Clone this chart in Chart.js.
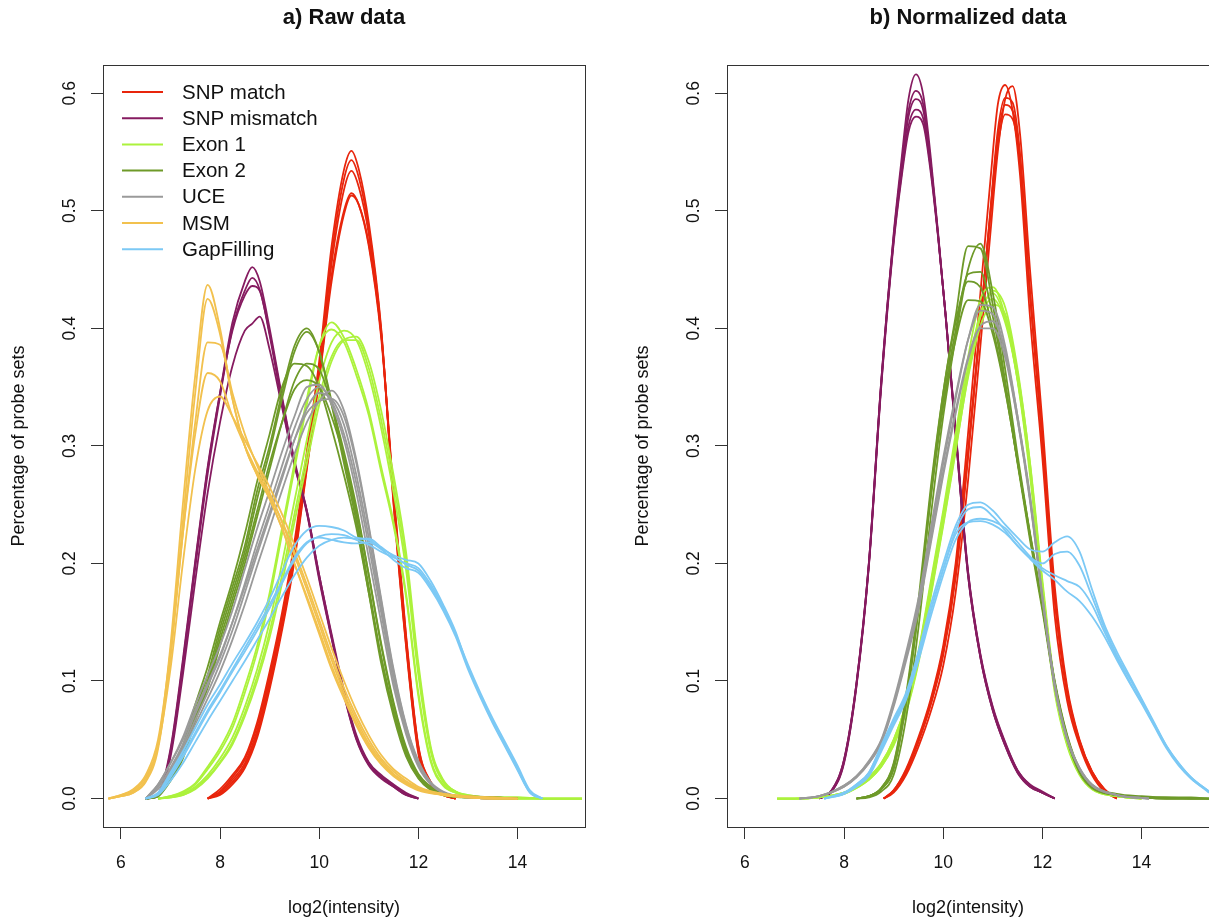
<!DOCTYPE html>
<html>
<head>
<meta charset="utf-8">
<script src="https://cdn.jsdelivr.net/npm/chart.js@4.4.1/dist/chart.umd.min.js"></script>
<style>
  html, body { margin: 0; padding: 0; background: #fff; overflow: hidden; width: 1209px; height: 924px; }
  .panel { position: absolute; top: 0; width: 620px; height: 924px; }
  #rawBox { left: 0; }
  #normBox { left: 624px; }
</style>
</head>
<body>
<div class="panel" id="rawBox"><canvas id="raw" width="620" height="924"></canvas></div>
<div class="panel" id="normBox"><canvas id="norm" width="620" height="924"></canvas></div>
<script>
// groups, in the order they were plotted (legend order)
const groups = ["SNP match", "SNP mismatch", "Exon 1", "Exon 2", "UCE", "MSM", "GapFilling"];
const groupColors = ["#e8250c", "#861b60", "#acf23c", "#6e9a29", "#9a9a9a", "#f2c14e", "#7cc9f5"];

const xTicks = [6, 8, 10, 12, 14];
const yTicks = [0, 0.1, 0.2, 0.3, 0.4, 0.5, 0.6];

// ---------- a) raw data ----------
const rawSnpMatchX = [7.75,8,8.25,8.5,8.75,9,9.25,9.5,9.75,10,10.25,10.5,10.65,10.8,11,11.25,11.5,11.75,12,12.25,12.5,12.75];
const rawSnpMatch = [
  [0,0.008,0.02,0.035,0.065,0.108,0.158,0.218,0.295,0.372,0.47,0.535,0.551,0.535,0.49,0.40,0.25,0.13,0.038,0.012,0.003,0],
  [0,0.006,0.018,0.033,0.062,0.104,0.154,0.213,0.29,0.366,0.462,0.527,0.543,0.528,0.485,0.398,0.252,0.132,0.04,0.012,0.003,0],
  [0,0.005,0.016,0.03,0.058,0.1,0.15,0.21,0.285,0.362,0.455,0.518,0.534,0.52,0.48,0.396,0.255,0.135,0.042,0.013,0.003,0],
  [0,0.004,0.014,0.028,0.055,0.096,0.146,0.205,0.282,0.358,0.445,0.5,0.515,0.505,0.47,0.392,0.258,0.138,0.044,0.014,0.004,0],
  [0,0.003,0.012,0.026,0.052,0.093,0.143,0.202,0.28,0.356,0.44,0.497,0.513,0.505,0.472,0.395,0.26,0.14,0.045,0.014,0.004,0]
];

const rawSnpMismatchX = [6.5,6.75,7,7.25,7.5,7.75,8,8.25,8.5,8.65,8.8,9,9.25,9.5,9.75,10,10.25,10.5,10.75,11,11.25,11.5,11.75,12];
const rawSnpMismatch = [
  [0,0.003,0.04,0.115,0.2,0.28,0.345,0.405,0.44,0.452,0.44,0.40,0.342,0.288,0.245,0.19,0.138,0.09,0.052,0.03,0.019,0.011,0.004,0],
  [0,0.003,0.038,0.112,0.196,0.276,0.342,0.40,0.432,0.443,0.433,0.396,0.34,0.286,0.244,0.188,0.137,0.089,0.051,0.029,0.018,0.01,0.003,0],
  [0,0.004,0.042,0.118,0.202,0.282,0.345,0.398,0.428,0.436,0.432,0.394,0.336,0.284,0.243,0.186,0.136,0.088,0.05,0.028,0.017,0.01,0.003,0],
  [0,0.002,0.035,0.105,0.185,0.26,0.32,0.368,0.398,0.404,0.41,0.382,0.333,0.284,0.245,0.19,0.14,0.092,0.054,0.031,0.02,0.012,0.005,0]
];

const rawExon1X = [6.75,7,7.25,7.5,7.75,8,8.25,8.5,8.75,9,9.25,9.5,9.75,10,10.25,10.5,10.75,11,11.25,11.5,11.75,12,12.25,12.5,12.75,13,13.5,14,14.5,15,15.3];
const rawExon1 = [
  [0,0.002,0.005,0.012,0.025,0.04,0.06,0.09,0.125,0.17,0.225,0.28,0.335,0.385,0.405,0.392,0.365,0.33,0.282,0.235,0.175,0.09,0.033,0.012,0.005,0.002,0.001,0,0,0,0],
  [0,0.002,0.006,0.013,0.027,0.043,0.064,0.095,0.13,0.175,0.23,0.285,0.34,0.385,0.399,0.388,0.36,0.326,0.278,0.232,0.172,0.087,0.031,0.011,0.005,0.002,0.001,0,0,0,0],
  [0,0.001,0.004,0.01,0.02,0.034,0.052,0.078,0.11,0.15,0.2,0.253,0.305,0.355,0.388,0.398,0.39,0.36,0.315,0.26,0.195,0.105,0.04,0.014,0.006,0.002,0.001,0,0,0,0],
  [0,0.001,0.003,0.008,0.017,0.03,0.046,0.07,0.1,0.137,0.183,0.235,0.285,0.335,0.372,0.39,0.393,0.372,0.33,0.275,0.21,0.115,0.044,0.016,0.006,0.003,0.001,0.001,0,0,0],
  [0,0.001,0.003,0.009,0.018,0.031,0.048,0.073,0.104,0.142,0.19,0.242,0.293,0.342,0.376,0.39,0.39,0.366,0.322,0.268,0.203,0.11,0.042,0.015,0.006,0.003,0.001,0.001,0,0,0]
];

const rawExon2X = [6.5,6.75,7,7.25,7.5,7.75,8,8.25,8.5,8.75,9,9.25,9.5,9.75,10,10.25,10.5,10.75,11,11.25,11.5,11.75,12,12.25,12.5,13,13.5,14];
const rawExon2 = [
  [0,0.003,0.02,0.04,0.075,0.105,0.145,0.18,0.215,0.262,0.30,0.345,0.385,0.40,0.38,0.335,0.285,0.235,0.175,0.115,0.07,0.036,0.017,0.007,0.003,0.001,0,0],
  [0,0.002,0.018,0.038,0.072,0.1,0.14,0.175,0.21,0.255,0.295,0.34,0.38,0.397,0.38,0.338,0.29,0.24,0.18,0.12,0.074,0.038,0.018,0.008,0.003,0.001,0,0],
  [0,0.002,0.015,0.034,0.066,0.094,0.13,0.165,0.2,0.24,0.28,0.32,0.355,0.37,0.365,0.335,0.295,0.248,0.19,0.13,0.08,0.042,0.02,0.009,0.004,0.001,0.001,0],
  [0,0.003,0.022,0.045,0.08,0.112,0.15,0.185,0.225,0.27,0.31,0.35,0.37,0.368,0.35,0.315,0.275,0.23,0.175,0.12,0.075,0.04,0.019,0.008,0.003,0.001,0.001,0],
  [0,0.002,0.017,0.036,0.068,0.097,0.135,0.17,0.205,0.245,0.285,0.32,0.348,0.356,0.35,0.325,0.29,0.245,0.19,0.132,0.082,0.044,0.021,0.01,0.004,0.002,0.001,0]
];

const rawUceX = [6.5,6.75,7,7.25,7.5,7.75,8,8.25,8.5,8.75,9,9.25,9.5,9.75,10,10.25,10.5,10.75,11,11.25,11.5,11.75,12,12.25,12.5,13,13.5];
const rawUce = [
  [0,0.012,0.03,0.052,0.08,0.105,0.13,0.16,0.195,0.23,0.262,0.295,0.325,0.35,0.352,0.335,0.305,0.26,0.205,0.15,0.095,0.055,0.027,0.012,0.005,0.001,0],
  [0,0.01,0.026,0.046,0.072,0.096,0.12,0.15,0.183,0.218,0.25,0.283,0.315,0.34,0.35,0.338,0.31,0.268,0.215,0.158,0.1,0.058,0.029,0.013,0.005,0.001,0],
  [0,0.008,0.022,0.04,0.063,0.085,0.108,0.135,0.165,0.198,0.23,0.262,0.293,0.32,0.338,0.347,0.33,0.288,0.232,0.17,0.11,0.063,0.032,0.014,0.006,0.001,0],
  [0,0.01,0.024,0.043,0.067,0.09,0.115,0.143,0.175,0.208,0.24,0.272,0.305,0.332,0.345,0.34,0.318,0.275,0.222,0.163,0.105,0.06,0.03,0.013,0.005,0.001,0],
  [0,0.012,0.03,0.05,0.075,0.098,0.122,0.15,0.18,0.212,0.243,0.275,0.305,0.328,0.338,0.34,0.325,0.285,0.23,0.168,0.108,0.062,0.031,0.013,0.005,0.001,0]
];

const rawMsmX = [5.75,6,6.25,6.5,6.75,7,7.25,7.5,7.75,8,8.25,8.5,8.75,9,9.25,9.5,9.75,10,10.25,10.5,10.75,11,11.25,11.5,11.75,12,12.5,13,13.5,14];
const rawMsm = [
  [0,0.002,0.005,0.015,0.045,0.13,0.25,0.36,0.437,0.40,0.34,0.30,0.275,0.255,0.23,0.20,0.17,0.14,0.11,0.085,0.062,0.043,0.029,0.019,0.012,0.007,0.003,0.001,0,0],
  [0,0.002,0.005,0.014,0.042,0.12,0.235,0.345,0.425,0.395,0.34,0.30,0.275,0.255,0.23,0.20,0.172,0.143,0.113,0.087,0.064,0.045,0.03,0.02,0.013,0.008,0.003,0.001,0,0],
  [0,0.002,0.006,0.016,0.045,0.12,0.225,0.32,0.388,0.386,0.345,0.31,0.283,0.26,0.235,0.207,0.178,0.148,0.118,0.09,0.067,0.047,0.032,0.021,0.014,0.008,0.003,0.001,0,0],
  [0,0.003,0.008,0.02,0.05,0.125,0.225,0.31,0.362,0.355,0.325,0.30,0.278,0.258,0.236,0.21,0.182,0.152,0.122,0.094,0.07,0.05,0.034,0.023,0.015,0.009,0.004,0.002,0.001,0],
  [0,0.003,0.007,0.018,0.045,0.11,0.2,0.28,0.33,0.342,0.325,0.305,0.285,0.265,0.242,0.216,0.188,0.158,0.128,0.1,0.075,0.054,0.037,0.025,0.017,0.01,0.004,0.002,0.001,0]
];

const rawGapX = [6.5,6.75,7,7.25,7.5,7.75,8,8.25,8.5,8.75,9,9.25,9.5,9.75,10,10.25,10.5,10.75,11,11.25,11.5,11.75,12,12.25,12.5,12.75,13,13.25,13.5,13.75,14,14.25,14.5];
const rawGap = [
  [0,0.005,0.022,0.04,0.06,0.08,0.097,0.115,0.132,0.15,0.17,0.193,0.215,0.228,0.232,0.231,0.228,0.222,0.22,0.213,0.207,0.203,0.2,0.185,0.165,0.142,0.112,0.088,0.065,0.045,0.025,0.005,0],
  [0,0.004,0.018,0.035,0.054,0.073,0.09,0.108,0.125,0.143,0.162,0.183,0.203,0.217,0.223,0.225,0.224,0.22,0.216,0.21,0.205,0.2,0.196,0.182,0.163,0.14,0.112,0.088,0.066,0.046,0.026,0.006,0],
  [0,0.003,0.015,0.03,0.048,0.066,0.083,0.1,0.117,0.135,0.153,0.172,0.19,0.205,0.215,0.22,0.222,0.221,0.221,0.214,0.206,0.199,0.194,0.18,0.162,0.14,0.114,0.09,0.068,0.048,0.028,0.007,0],
  [0,0.004,0.02,0.037,0.056,0.075,0.092,0.11,0.128,0.146,0.165,0.185,0.205,0.218,0.222,0.22,0.218,0.217,0.218,0.212,0.203,0.196,0.192,0.178,0.16,0.138,0.11,0.086,0.064,0.044,0.024,0.005,0]
];

// ---------- b) normalized data (no MSM) ----------
const normSnpMatchX = [8.8,9,9.25,9.5,9.75,10,10.25,10.5,10.75,10.95,11.1,11.25,11.4,11.55,11.75,12,12.25,12.5,12.75,13,13.25,13.5];
const normSnpMatch = [
  [0,0.007,0.025,0.052,0.085,0.13,0.2,0.31,0.43,0.525,0.59,0.607,0.585,0.53,0.41,0.29,0.155,0.083,0.045,0.02,0.006,0],
  [0,0.005,0.02,0.044,0.074,0.113,0.175,0.27,0.385,0.48,0.55,0.595,0.606,0.565,0.45,0.32,0.18,0.095,0.05,0.023,0.008,0],
  [0,0.006,0.022,0.048,0.08,0.122,0.188,0.29,0.405,0.5,0.568,0.596,0.592,0.548,0.43,0.305,0.168,0.09,0.048,0.022,0.007,0],
  [0,0.006,0.023,0.049,0.081,0.124,0.19,0.292,0.405,0.498,0.562,0.59,0.585,0.545,0.43,0.305,0.17,0.09,0.048,0.022,0.007,0],
  [0,0.007,0.024,0.05,0.083,0.127,0.194,0.295,0.405,0.495,0.555,0.582,0.578,0.54,0.43,0.307,0.172,0.092,0.049,0.023,0.008,0]
];

const normSnpMismatchX = [7.5,7.75,8,8.25,8.5,8.75,9,9.15,9.3,9.45,9.6,9.75,9.9,10.05,10.25,10.5,10.75,11,11.25,11.5,11.75,12,12.25];
const normSnpMismatch = [
  [0,0.007,0.033,0.098,0.2,0.355,0.48,0.54,0.595,0.616,0.598,0.545,0.48,0.41,0.31,0.19,0.12,0.075,0.045,0.022,0.01,0.005,0],
  [0,0.007,0.033,0.098,0.2,0.355,0.478,0.535,0.585,0.602,0.59,0.54,0.478,0.41,0.31,0.19,0.12,0.075,0.045,0.022,0.01,0.005,0],
  [0,0.006,0.032,0.097,0.199,0.353,0.476,0.532,0.58,0.595,0.585,0.538,0.478,0.41,0.312,0.192,0.121,0.076,0.046,0.023,0.011,0.005,0],
  [0,0.006,0.031,0.096,0.198,0.352,0.474,0.528,0.572,0.586,0.578,0.535,0.477,0.411,0.313,0.193,0.122,0.077,0.047,0.024,0.011,0.005,0],
  [0,0.006,0.03,0.095,0.197,0.35,0.472,0.525,0.567,0.58,0.573,0.532,0.476,0.411,0.314,0.194,0.123,0.078,0.048,0.024,0.012,0.006,0]
];

const normExon1X = [6.65,7,7.5,8,8.25,8.5,8.75,9,9.25,9.5,9.75,10,10.25,10.5,10.75,11,11.25,11.5,11.75,12,12.25,12.5,12.75,13,13.5,14];
const normExon1 = [
  [0,0,0.001,0.005,0.01,0.018,0.03,0.05,0.08,0.125,0.185,0.245,0.31,0.375,0.425,0.435,0.41,0.355,0.275,0.175,0.09,0.045,0.02,0.008,0.002,0],
  [0,0,0.001,0.004,0.009,0.016,0.027,0.045,0.073,0.115,0.172,0.232,0.295,0.36,0.41,0.432,0.418,0.365,0.285,0.182,0.094,0.047,0.021,0.009,0.002,0],
  [0,0,0.001,0.005,0.01,0.017,0.029,0.048,0.077,0.12,0.178,0.238,0.302,0.365,0.413,0.43,0.408,0.357,0.28,0.18,0.093,0.046,0.021,0.008,0.002,0],
  [0,0,0.001,0.005,0.01,0.018,0.03,0.05,0.08,0.124,0.182,0.242,0.305,0.366,0.41,0.425,0.405,0.356,0.28,0.182,0.094,0.047,0.021,0.009,0.002,0],
  [0,0,0.001,0.004,0.009,0.016,0.027,0.046,0.074,0.117,0.174,0.234,0.297,0.358,0.402,0.42,0.412,0.362,0.286,0.186,0.097,0.049,0.022,0.009,0.002,0]
];

const normExon2X = [8.25,8.5,8.75,9,9.25,9.5,9.75,10,10.25,10.5,10.75,11,11.25,11.5,11.75,12,12.25,12.5,12.75,13,13.5,14,14.5,15,15.36];
const normExon2 = [
  [0,0.002,0.008,0.025,0.08,0.16,0.26,0.345,0.41,0.47,0.468,0.42,0.355,0.285,0.22,0.16,0.095,0.05,0.022,0.009,0.003,0.001,0,0,0],
  [0,0.001,0.006,0.02,0.068,0.145,0.24,0.325,0.392,0.45,0.472,0.43,0.365,0.292,0.225,0.163,0.097,0.051,0.023,0.01,0.003,0.001,0,0,0],
  [0,0.002,0.008,0.026,0.082,0.162,0.258,0.338,0.398,0.446,0.448,0.41,0.352,0.287,0.223,0.163,0.098,0.052,0.023,0.01,0.003,0.001,0,0,0],
  [0,0.002,0.009,0.03,0.088,0.168,0.265,0.345,0.405,0.44,0.435,0.4,0.348,0.286,0.224,0.164,0.099,0.053,0.024,0.01,0.003,0.001,0.001,0,0],
  [0,0.002,0.009,0.029,0.085,0.163,0.256,0.333,0.39,0.424,0.423,0.395,0.347,0.287,0.226,0.166,0.1,0.054,0.025,0.011,0.004,0.002,0.001,0.001,0]
];

const normUceX = [7.1,7.5,8,8.25,8.5,8.75,9,9.25,9.5,9.75,10,10.25,10.5,10.75,11,11.25,11.5,11.75,12,12.25,12.5,12.75,13,13.5,14.15];
const normUce = [
  [0,0.002,0.01,0.018,0.03,0.048,0.08,0.12,0.165,0.225,0.285,0.34,0.39,0.42,0.418,0.385,0.325,0.255,0.17,0.095,0.05,0.025,0.011,0.003,0],
  [0,0.002,0.011,0.019,0.032,0.05,0.083,0.124,0.17,0.23,0.29,0.343,0.39,0.415,0.412,0.38,0.322,0.253,0.17,0.095,0.05,0.025,0.011,0.003,0],
  [0,0.002,0.01,0.018,0.03,0.047,0.078,0.117,0.16,0.217,0.275,0.327,0.373,0.402,0.406,0.38,0.325,0.258,0.173,0.097,0.051,0.026,0.012,0.003,0],
  [0,0.002,0.011,0.019,0.031,0.049,0.08,0.12,0.163,0.22,0.278,0.33,0.375,0.4,0.4,0.375,0.322,0.256,0.172,0.097,0.051,0.026,0.012,0.003,0]
];

const normGapX = [7.6,8,8.25,8.5,8.75,9,9.25,9.5,9.75,10,10.25,10.5,10.75,11,11.25,11.5,11.75,12,12.25,12.5,12.75,13,13.25,13.5,13.75,14,14.25,14.5,14.75,15,15.36];
const normGap = [
  [0,0.005,0.012,0.022,0.045,0.068,0.09,0.125,0.165,0.2,0.232,0.25,0.252,0.245,0.233,0.222,0.212,0.21,0.218,0.223,0.21,0.178,0.148,0.125,0.105,0.085,0.065,0.045,0.03,0.018,0.006],
  [0,0.004,0.011,0.02,0.042,0.064,0.086,0.12,0.16,0.195,0.228,0.246,0.248,0.24,0.228,0.215,0.205,0.2,0.208,0.21,0.198,0.172,0.145,0.122,0.103,0.084,0.064,0.045,0.03,0.018,0.006],
  [0,0.004,0.01,0.019,0.04,0.062,0.084,0.117,0.155,0.19,0.22,0.235,0.238,0.236,0.23,0.218,0.206,0.196,0.19,0.185,0.18,0.165,0.142,0.12,0.1,0.082,0.063,0.044,0.029,0.017,0.006],
  [0,0.005,0.012,0.022,0.044,0.066,0.088,0.122,0.16,0.195,0.225,0.235,0.236,0.233,0.226,0.215,0.204,0.194,0.186,0.176,0.168,0.155,0.138,0.118,0.099,0.081,0.062,0.043,0.028,0.017,0.005]
];

const FONT = "'Liberation Sans', Arial, Helvetica, sans-serif";
const INK = "#111";

// one line per replicate; order makes later groups draw on top, like the original
function makeDatasets(panel) {
  const out = [];
  panel.forEach(([gi, xs, reps]) => {
    reps.forEach(ys => {
      out.push({
        label: groups[gi],
        data: xs.map((x, i) => ({ x: x, y: ys[i] })),
        borderColor: groupColors[gi],
        borderWidth: 1.8,
        pointRadius: 0,
        fill: false,
        cubicInterpolationMode: "monotone",
        order: groups.length - gi
      });
    });
  });
  return out;
}

const framePlugin = {
  id: "frame",
  afterDatasetsDraw(chart) {
    const a = chart.chartArea;
    const ctx = chart.ctx;
    ctx.save();
    ctx.strokeStyle = "#333";
    ctx.lineWidth = 1;
    ctx.strokeRect(Math.round(a.left) + 0.5, Math.round(a.top) + 0.5,
      Math.round(a.right - a.left), Math.round(a.bottom - a.top));
    ctx.restore();
  }
};

const legendPlugin = {
  id: "groupLegend",
  afterDatasetsDraw(chart) {
    const a = chart.chartArea;
    const ctx = chart.ctx;
    ctx.save();
    ctx.font = "20.5px " + FONT;
    ctx.textBaseline = "middle";
    groups.forEach((g, i) => {
      const y = a.top + 27 + i * 26.2;
      ctx.strokeStyle = groupColors[i];
      ctx.lineWidth = 2;
      ctx.beginPath();
      ctx.moveTo(a.left + 19, y);
      ctx.lineTo(a.left + 60, y);
      ctx.stroke();
      ctx.fillStyle = INK;
      ctx.fillText(g, a.left + 79, y + 1);
    });
    ctx.restore();
  }
};

function makeOptions(titleText) {
  const tickGrid = { display: true, drawOnChartArea: false, drawTicks: true, tickLength: 12, color: "#333", lineWidth: 1 };
  return {
    responsive: false,
    animation: false,
    events: [],
    layout: { padding: { left: 0, right: 35, top: 0, bottom: 0 } },
    plugins: {
      legend: { display: false },
      tooltip: { enabled: false },
      title: {
        display: true, text: titleText, fullSize: false, color: INK,
        font: { family: FONT, size: 22, weight: "bold" },
        padding: { top: 5, bottom: 33.6 }
      }
    },
    scales: {
      x: {
        type: "linear", min: 5.64, max: 15.36,
        afterBuildTicks: s => { s.ticks = xTicks.map(v => ({ value: v })); },
        afterFit: s => { s.height = 97; },
        grid: tickGrid,
        border: { display: true, color: "#333", width: 1 },
        ticks: { color: INK, font: { family: FONT, size: 17.5 }, padding: 14, maxRotation: 0, autoSkip: false },
        title: { display: true, text: "log2(intensity)", color: INK, font: { family: FONT, size: 18 }, padding: { top: 0, bottom: 5 } }
      },
      y: {
        type: "linear", min: -0.0242, max: 0.624,
        afterBuildTicks: s => { s.ticks = yTicks.map(v => ({ value: v })); },
        afterFit: s => { s.width = 103; },
        grid: tickGrid,
        border: { display: true, color: "#333", width: 1 },
        ticks: {
          color: INK, font: { family: FONT, size: 17.5 }, padding: 9,
          minRotation: 90, maxRotation: 90, crossAlign: "center", autoSkip: false,
          callback: v => v.toFixed(1)
        },
        title: { display: true, text: "Percentage of probe sets", color: INK, font: { family: FONT, size: 18 }, padding: { top: 8, bottom: 0 } }
      }
    }
  };
}

new Chart(document.getElementById("raw"), {
  type: "line",
  data: {
    datasets: makeDatasets([
      [0, rawSnpMatchX, rawSnpMatch],
      [1, rawSnpMismatchX, rawSnpMismatch],
      [2, rawExon1X, rawExon1],
      [3, rawExon2X, rawExon2],
      [4, rawUceX, rawUce],
      [5, rawMsmX, rawMsm],
      [6, rawGapX, rawGap]
    ])
  },
  options: makeOptions("a) Raw data"),
  plugins: [framePlugin, legendPlugin]
});

new Chart(document.getElementById("norm"), {
  type: "line",
  data: {
    datasets: makeDatasets([
      [0, normSnpMatchX, normSnpMatch],
      [1, normSnpMismatchX, normSnpMismatch],
      [2, normExon1X, normExon1],
      [3, normExon2X, normExon2],
      [4, normUceX, normUce],
      [6, normGapX, normGap]
    ])
  },
  options: makeOptions("b) Normalized data"),
  plugins: [framePlugin]
});
</script>
</body>
</html>
